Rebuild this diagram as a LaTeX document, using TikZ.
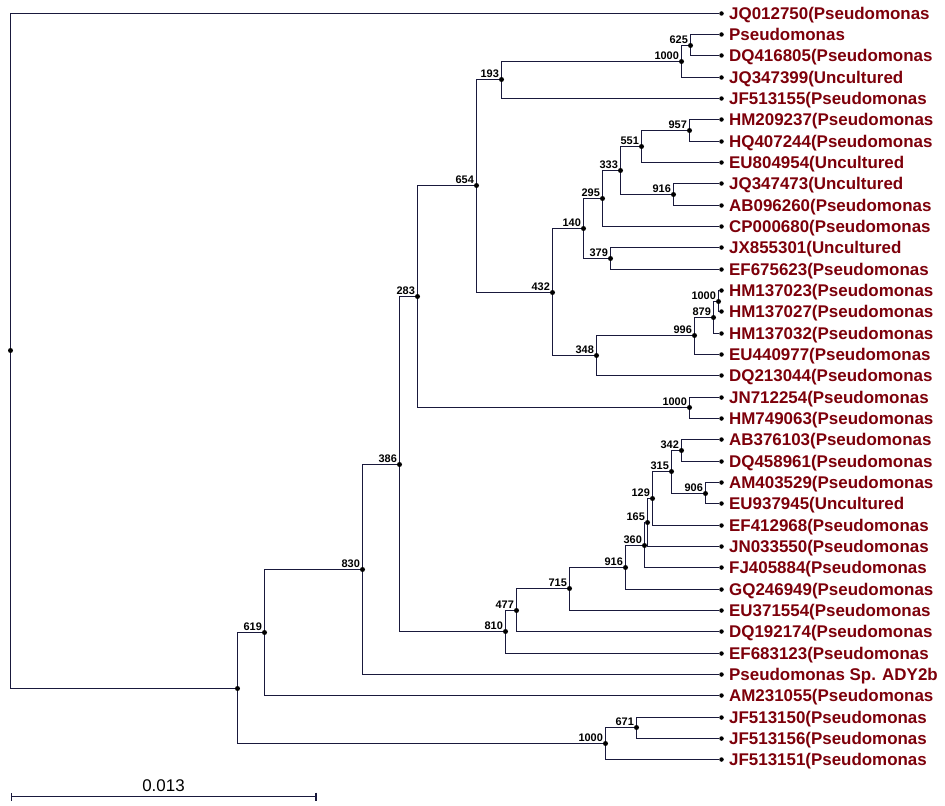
\documentclass[tikz,border=0pt]{standalone}
\usepackage{fontspec}
\setmainfont{Liberation Sans}
\usetikzlibrary{arrows.meta,positioning}
\definecolor{branchcol}{RGB}{25,25,60}
\definecolor{taxoncol}{RGB}{125,0,10}
\tikzset{%
  % Specifications for style of dots, labels and branches:
       branch/.style = {draw=branchcol, line width=1.7bp},
         fork/.style = {circle, fill=black, inner sep=0pt, minimum size=5bp},
      leafdot/.style = {circle, fill=black, inner sep=0pt, minimum size=4.5bp},
        taxon/.style = {text=taxoncol, inner sep=0pt, xshift=5bp,
                        text height=12.2bp, text depth=0pt,
                        font=\bfseries\fontsize{17}{17}\selectfont},
         boot/.style = {inner sep=0pt, xshift=-0.5bp,
                        font=\bfseries\fontsize{11}{11}\selectfont},
}

\begin{document}
\begin{tikzpicture}[x=1bp, y=-1bp]
  \useasboundingbox (0,0) rectangle (945,806);
  % Leaves, top to bottom
  \node (jq012750) [leafdot, label={[taxon]right:JQ012750(Pseudomonas}] at (721.5,13.5)  {};
  \node (pseudo)   [leafdot, label={[taxon]right:Pseudomonas}]          at (721.5,34.5)  {};
  \node (dq416805) [leafdot, label={[taxon]right:DQ416805(Pseudomonas}] at (721.5,55.5)  {};
  \node (jq347399) [leafdot, label={[taxon]right:JQ347399(Uncultured}]  at (721.5,77.5)  {};
  \node (jf513155) [leafdot, label={[taxon]right:JF513155(Pseudomonas}] at (721.5,98.5)  {};
  \node (hm209237) [leafdot, label={[taxon]right:HM209237(Pseudomonas}] at (721.5,119.5) {};
  \node (hq407244) [leafdot, label={[taxon]right:HQ407244(Pseudomonas}] at (721.5,141.5) {};
  \node (eu804954) [leafdot, label={[taxon]right:EU804954(Uncultured}]  at (721.5,162.5) {};
  \node (jq347473) [leafdot, label={[taxon]right:JQ347473(Uncultured}]  at (721.5,183.5) {};
  \node (ab096260) [leafdot, label={[taxon]right:AB096260(Pseudomonas}] at (721.5,205.5) {};
  \node (cp000680) [leafdot, label={[taxon]right:CP000680(Pseudomonas}] at (721.5,226.5) {};
  \node (jx855301) [leafdot, label={[taxon]right:JX855301(Uncultured}]  at (721.5,247.5) {};
  \node (ef675623) [leafdot, label={[taxon]right:EF675623(Pseudomonas}] at (721.5,269.5) {};
  \node (hm137023) [leafdot, label={[taxon]right:HM137023(Pseudomonas}] at (721.5,290.5) {};
  \node (hm137027) [leafdot, label={[taxon]right:HM137027(Pseudomonas}] at (721.5,311.5) {};
  \node (hm137032) [leafdot, label={[taxon]right:HM137032(Pseudomonas}] at (721.5,333.5) {};
  \node (eu440977) [leafdot, label={[taxon]right:EU440977(Pseudomonas}] at (721.5,354.5) {};
  \node (dq213044) [leafdot, label={[taxon]right:DQ213044(Pseudomonas}] at (721.5,375.5) {};
  \node (jn712254) [leafdot, label={[taxon]right:JN712254(Pseudomonas}] at (721.5,397.5) {};
  \node (hm749063) [leafdot, label={[taxon]right:HM749063(Pseudomonas}] at (721.5,418.5) {};
  \node (ab376103) [leafdot, label={[taxon]right:AB376103(Pseudomonas}] at (721.5,439.5) {};
  \node (dq458961) [leafdot, label={[taxon]right:DQ458961(Pseudomonas}] at (721.5,461.5) {};
  \node (am403529) [leafdot, label={[taxon]right:AM403529(Pseudomonas}] at (721.5,482.5) {};
  \node (eu937945) [leafdot, label={[taxon]right:EU937945(Uncultured}]  at (721.5,503.5) {};
  \node (ef412968) [leafdot, label={[taxon]right:EF412968(Pseudomonas}] at (721.5,525.5) {};
  \node (jn033550) [leafdot, label={[taxon]right:JN033550(Pseudomonas}] at (721.5,546.5) {};
  \node (fj405884) [leafdot, label={[taxon]right:FJ405884(Pseudomonas}] at (721.5,567.5) {};
  \node (gq246949) [leafdot, label={[taxon]right:GQ246949(Pseudomonas}] at (721.5,589.5) {};
  \node (eu371554) [leafdot, label={[taxon]right:EU371554(Pseudomonas}] at (721.5,610.5) {};
  \node (dq192174) [leafdot, label={[taxon]right:DQ192174(Pseudomonas}] at (721.5,631.5) {};
  \node (ef683123) [leafdot, label={[taxon]right:EF683123(Pseudomonas}] at (721.5,653.5) {};
  \node (ady2b)    [leafdot, label={[taxon]right:Pseudomonas Sp. ADY2b}] at (721.5,674.5) {};
  \node (am231055) [leafdot, label={[taxon]right:AM231055(Pseudomonas}] at (721.5,695.5) {};
  \node (jf513150) [leafdot, label={[taxon]right:JF513150(Pseudomonas}] at (721.5,717.5) {};
  \node (jf513156) [leafdot, label={[taxon]right:JF513156(Pseudomonas}] at (721.5,738.5) {};
  \node (jf513151) [leafdot, label={[taxon]right:JF513151(Pseudomonas}] at (721.5,759.5) {};

  % Inner forks with bootstrap values
  \node (b625)   [fork, label={[boot]above left:625}]  at (690.5,45.5)  {};
  \node (b1000a) [fork, label={[boot]above left:1000}] at (681.5,61.5)  {};
  \node (b193)   [fork, label={[boot]above left:193}]  at (501.5,79.5)  {};
  \node (b957)   [fork, label={[boot]above left:957}]  at (689.5,130.5) {};
  \node (b551)   [fork, label={[boot]above left:551}]  at (641.5,146.5) {};
  \node (b916a)  [fork, label={[boot]above left:916}]  at (673.5,194.5) {};
  \node (b333)   [fork, label={[boot]above left:333}]  at (620.5,170.5) {};
  \node (b295)   [fork, label={[boot]above left:295}]  at (602.5,198.5) {};
  \node (b379)   [fork, label={[boot]above left:379}]  at (610.5,258.5) {};
  \node (b140)   [fork, label={[boot]above left:140}]  at (583.5,228.5) {};
  \node (b1000b) [fork, label={[boot]above left:1000}] at (718.5,301.5) {};
  \node (b879)   [fork, label={[boot]above left:879}]  at (713.5,317.5) {};
  \node (b996)   [fork, label={[boot]above left:996}]  at (694.5,335.5) {};
  \node (b348)   [fork, label={[boot]above left:348}]  at (596.5,355.5) {};
  \node (b432)   [fork, label={[boot]above left:432}]  at (552.5,292.5) {};
  \node (b654)   [fork, label={[boot]above left:654}]  at (476.5,185.5) {};
  \node (b1000c) [fork, label={[boot]above left:1000}] at (689.5,407.5) {};
  \node (b283)   [fork, label={[boot]above left:283}]  at (417.5,296.5) {};
  \node (b342)   [fork, label={[boot]above left:342}]  at (681.5,450.5) {};
  \node (b906)   [fork, label={[boot]above left:906}]  at (705.5,493.5) {};
  \node (b315)   [fork, label={[boot]above left:315}]  at (671.5,471.5) {};
  \node (b129)   [fork, label={[boot]above left:129}]  at (652.5,498.5) {};
  \node (b165)   [fork, label={[boot]above left:165}]  at (647.5,522.5) {};
  \node (b360)   [fork, label={[boot]above left:360}]  at (644.5,545.5) {};
  \node (b916b)  [fork, label={[boot]above left:916}]  at (625.5,567.5) {};
  \node (b715)   [fork, label={[boot]above left:715}]  at (569.5,588.5) {};
  \node (b477)   [fork, label={[boot]above left:477}]  at (516.5,610.5) {};
  \node (b810)   [fork, label={[boot]above left:810}]  at (505.5,631.5) {};
  \node (b386)   [fork, label={[boot]above left:386}]  at (399.5,464.5) {};
  \node (b830)   [fork, label={[boot]above left:830}]  at (362.5,569.5) {};
  \node (b619)   [fork, label={[boot]above left:619}]  at (264.5,632.5) {};
  \node (b671)   [fork, label={[boot]above left:671}]  at (636.5,727.5) {};
  \node (b1000d) [fork, label={[boot]above left:1000}] at (605.5,743.5) {};
  \node (bbase)  [fork]                                at (237.5,688.5) {};
  \node (root)   [fork]                                at (10.5,350.5)  {};

  % Branches
  \draw[branch]   (pseudo) -| (b625)   |- (dq416805);
  \draw[branch]     (b625) -| (b1000a) |- (jq347399);
  \draw[branch]   (b1000a) -| (b193)   |- (jf513155);
  \draw[branch] (hm209237) -| (b957)   |- (hq407244);
  \draw[branch]     (b957) -| (b551)   |- (eu804954);
  \draw[branch] (jq347473) -| (b916a)  |- (ab096260);
  \draw[branch]     (b551) -| (b333)   |- (b916a);
  \draw[branch]     (b333) -| (b295)   |- (cp000680);
  \draw[branch] (jx855301) -| (b379)   |- (ef675623);
  \draw[branch]     (b295) -| (b140)   |- (b379);
  \draw[branch] (hm137023) -| (b1000b) |- (hm137027);
  \draw[branch]   (b1000b) -| (b879)   |- (hm137032);
  \draw[branch]     (b879) -| (b996)   |- (eu440977);
  \draw[branch]     (b996) -| (b348)   |- (dq213044);
  \draw[branch]     (b140) -| (b432)   |- (b348);
  \draw[branch]     (b193) -| (b654)   |- (b432);
  \draw[branch] (jn712254) -| (b1000c) |- (hm749063);
  \draw[branch]     (b654) -| (b283)   |- (b1000c);
  \draw[branch] (ab376103) -| (b342)   |- (dq458961);
  \draw[branch] (am403529) -| (b906)   |- (eu937945);
  \draw[branch]     (b342) -| (b315)   |- (b906);
  \draw[branch]     (b315) -| (b129)   |- (ef412968);
  \draw[branch]     (b129) -| (b165)   |- (jn033550);
  \draw[branch]     (b165) -| (b360)   |- (fj405884);
  \draw[branch]     (b360) -| (b916b)  |- (gq246949);
  \draw[branch]    (b916b) -| (b715)   |- (eu371554);
  \draw[branch]     (b715) -| (b477)   |- (dq192174);
  \draw[branch]     (b477) -| (b810)   |- (ef683123);
  \draw[branch]     (b283) -| (b386)   |- (b810);
  \draw[branch]     (b386) -| (b830)   |- (ady2b);
  \draw[branch]     (b830) -| (b619)   |- (am231055);
  \draw[branch] (jf513150) -| (b671)   |- (jf513156);
  \draw[branch]     (b671) -| (b1000d) |- (jf513151);
  \draw[branch]     (b619) -| (bbase)  |- (b1000d);
  \draw[branch] (jq012750) -| (root)   |- (bbase);

  % Scale bar
  \coordinate (barL) at (10.5,796.5);
  \coordinate (barR) at (316.5,796.5);
  \draw[branch, {Bar[width=8bp]}-{Bar[width=8bp]}] (barL) --
     node[above=4bp, inner sep=0pt, font=\fontsize{17}{17}\selectfont] {0.013} (barR);
\end{tikzpicture}
\end{document}
